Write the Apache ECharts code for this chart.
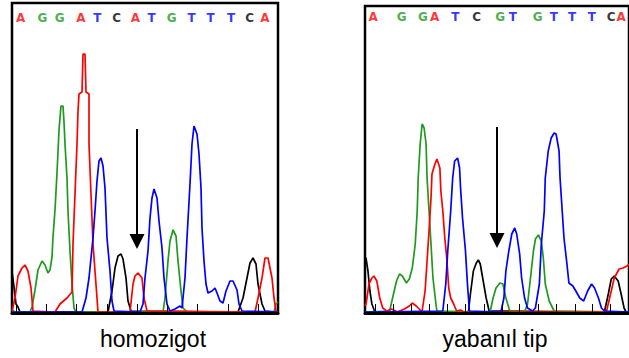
<!DOCTYPE html>
<html><head><meta charset="utf-8">
<script src="https://cdn.jsdelivr.net/npm/echarts@6/dist/echarts.min.js"></script>
<style>html,body{margin:0;padding:0;background:#fff}#c{width:629px;height:358px}</style>
</head><body><div id="c"></div>
<script>
// ---------- data (scan position, signal intensity) ----------
// Panel 1: homozigot
const homA = [[0,2],[1,5],[3,14],[6,36],[10,44],[13,47],[16,41],[19,24],[21,1],[43,0],[48,8],[55,14],[60,20],[61,68],[63,118],[65,168],[66,201],[67,218],[70,220],[71,258],[73,258],[74,220],[77,218],[77,168],[79,118],[81,68],[83,41],[85,14],[86,0],[118,0],[121,28],[123,36],[126,39],[130,34],[132,14],[135,1],[243,0],[246,14],[250,34],[253,54],[256,54],[260,34],[262,14],[264,1],[266,0]];
const homC = [[0,41],[2,25],[4,8],[6,5],[8,0],[96,0],[100,21],[103,44],[106,56],[109,58],[111,53],[114,34],[116,11],[119,1],[226,0],[231,14],[235,34],[238,49],[241,54],[244,48],[246,28],[250,8],[253,1],[266,0]];
const homG = [[0,2],[3,0],[18,0],[20,5],[23,22],[26,42],[30,51],[33,47],[36,39],[38,42],[40,55],[41,75],[43,102],[45,139],[47,182],[49,206],[51,206],[52,190],[53,168],[55,134],[56,101],[58,61],[60,28],[62,4],[64,0],[151,0],[153,14],[156,51],[158,71],[161,82],[164,76],[166,51],[169,21],[171,4],[175,0],[262,0],[264,8],[266,10]];
const homT = [[0,0],[70,0],[74,14],[77,34],[81,74],[83,101],[85,131],[87,151],[89,154],[91,146],[93,124],[95,74],[98,41],[100,11],[102,1],[128,0],[131,8],[133,34],[136,61],[138,94],[140,114],[142,123],[145,114],[147,91],[150,64],[152,34],[155,8],[158,1],[163,3],[168,6],[170,4],[173,34],[175,74],[178,128],[180,168],[182,186],[185,178],[187,158],[189,124],[190,84],[192,51],[194,28],[196,19],[200,21],[203,24],[205,19],[208,11],[211,9],[214,21],[218,31],[221,31],[225,22],[227,8],[230,1],[266,0]];
const homBases = ['A','G','G','A','T','C','A','T','G','T','T','T','C','A'];
const homBasePos = [8.7,30.3,47.7,69,85.3,104.7,123.3,139.7,159.7,179.7,198.7,219,237.7,253];
const homTicks = [4,34,64,95,125,155,185,216,246];
const homArrow = {x:125, from:183, to:63};

// Panel 2: yabanıl tip
const wtA = [[0,6],[1,8],[2,14],[4,28],[7,34],[9,36],[12,31],[15,14],[18,4],[22,1],[27,3],[33,0],[40,3],[45,6],[48,9],[52,6],[57,1],[58,1],[61,21],[63,51],[65,81],[67,114],[68,138],[71,148],[73,153],[76,144],[77,121],[79,101],[81,74],[83,54],[85,24],[87,14],[90,8],[93,1],[97,2],[100,0],[245,0],[250,21],[253,34],[258,43],[262,44],[266,46],[268,48]];
const wtC = [[0,54],[1,54],[3,41],[5,21],[7,8],[10,0],[105,0],[107,18],[110,41],[113,49],[115,52],[117,48],[120,31],[123,14],[126,1],[243,0],[247,18],[250,33],[253,36],[257,31],[260,18],[263,4],[265,0],[268,0]];
const wtG = [[0,0],[25,1],[28,14],[32,31],[35,38],[38,36],[42,29],[45,33],[48,44],[51,68],[53,101],[54,134],[56,168],[58,188],[60,184],[62,168],[63,134],[65,101],[67,68],[69,34],[72,8],[73,1],[127,0],[130,14],[133,24],[137,29],[140,28],[143,14],[147,1],[162,0],[165,8],[168,34],[171,61],[173,73],[176,77],[179,71],[181,54],[183,28],[187,11],[192,1],[268,0]];
const wtT = [[0,0],[79,1],[82,28],[84,61],[87,101],[89,134],[91,151],[94,154],[96,144],[97,124],[99,94],[102,61],[104,28],[106,1],[138,0],[141,14],[143,41],[146,61],[149,78],[152,84],[154,78],[157,58],[159,34],[162,14],[165,4],[170,1],[173,4],[177,28],[179,68],[182,101],[183,134],[186,161],[189,174],[192,179],[194,178],[197,161],[198,134],[200,104],[202,74],[205,48],[207,29],[211,26],[214,21],[218,14],[222,11],[226,21],[230,28],[233,24],[237,14],[240,4],[243,1],[268,0]];
const wtBases = ['A','G','G','A','T','C','G','T','G','T','T','T','C','A'];
const wtBasePos = [8.3,37.3,58.7,70.7,91.7,113.3,137.3,150,175.3,191.7,210.3,230.3,250,260];
const wtTicks = [10,29,47,65,84,102,121,139,157,176,194,213,231,249];
const wtArrow = {x:134, from:185, to:64};

const panelTitles = ['homozigot', 'yabanıl tip'];
const baseColors = {A:'#ff0000', C:'#000000', G:'#1e9a1e', T:'#0000ff'};
// ------------------------------------------------------------

const chart = echarts.init(document.getElementById('c'), null, {renderer:'svg'});

function traces(idx, A, C, G, T) {
  const mk = (d, base) => ({
    type:'line', xAxisIndex:idx, yAxisIndex:idx, data:d, showSymbol:false, symbol:'none',
    smooth:false, silent:true, animation:false,
    lineStyle:{color:baseColors[base], width:1.7}
  });
  return [mk(C,'C'), mk(G,'G'), mk(A,'A'), mk(T,'T')];
}
function letters(idx, bases, pos, h) {
  return {
    type:'scatter', xAxisIndex:idx, yAxisIndex:idx, symbolSize:0, silent:true, animation:false,
    itemStyle:{color:'rgba(0,0,0,0)'}, z:20,
    label:{show:true, position:'inside', fontFamily:'DejaVu Sans', fontWeight:'bold', fontSize:12},
    data: bases.map((b,i)=>({value:[pos[i], h], name:b,
      label:{show:true, position:'inside', formatter:b, color:baseColors[b],
        fontFamily:'DejaVu Sans', fontWeight:'bold', fontSize:12}}))
  };
}
function arrow(idx, a) {
  return {
    type:'line', xAxisIndex:idx, yAxisIndex:idx, data:[], silent:true, animation:false,
    markLine:{silent:true, symbol:['none','none'], label:{show:false},
      lineStyle:{color:'#000', width:2, type:'solid'},
      data:[[{coord:[a.x, a.from]},{coord:[a.x, a.to+15]}]]},
    markPoint:{silent:true, symbol:'path://M0,0L2,0L1,2Z', symbolSize:[15,15],
      itemStyle:{color:'#000'}, label:{show:false},
      data:[{coord:[a.x, a.to+7.5]}]}
  };
}
function xAx(idx, max, ticks) {
  return {type:'value', gridIndex:idx, min:0, max:max, z:10,
    axisLine:{show:true, onZero:false, lineStyle:{color:'#000', width:3}},
    axisTick:{show:true, inside:true, length:9, customValues:ticks, lineStyle:{color:'#000', width:1}},
    axisLabel:{show:false}, splitLine:{show:false}};
}
function yAx(idx, max) {
  return {type:'value', gridIndex:idx, min:-1, max:max, show:false, splitLine:{show:false}};
}

chart.setOption({
  animation:false,
  grid:[
    {left:12, top:3, width:266, height:310, show:true, borderColor:'#000', borderWidth:2.5, backgroundColor:'#fff'},
    {left:365, top:6, width:268, height:307, show:true, borderColor:'#000', borderWidth:2.5, backgroundColor:'#fff'}
  ],
  xAxis:[xAx(0,266,homTicks), xAx(1,268,wtTicks)],
  yAxis:[yAx(0,309), yAx(1,306)],
  graphic:[
    {type:'text', x:153, y:339, style:{text:panelTitles[0], fill:'#000', font:'23px "Liberation Sans", Arial, sans-serif', textAlign:'center', textVerticalAlign:'middle'}},
    {type:'text', x:495, y:339, style:{text:panelTitles[1], fill:'#000', font:'23px "Liberation Sans", Arial, sans-serif', textAlign:'center', textVerticalAlign:'middle'}}
  ],
  series:[
    ...traces(0, homA, homC, homG, homT),
    ...traces(1, wtA, wtC, wtG, wtT),
    letters(0, homBases, homBasePos, 294),
    letters(1, wtBases, wtBasePos, 295),
    arrow(0, homArrow),
    arrow(1, wtArrow)
  ]
});
</script></body></html>
